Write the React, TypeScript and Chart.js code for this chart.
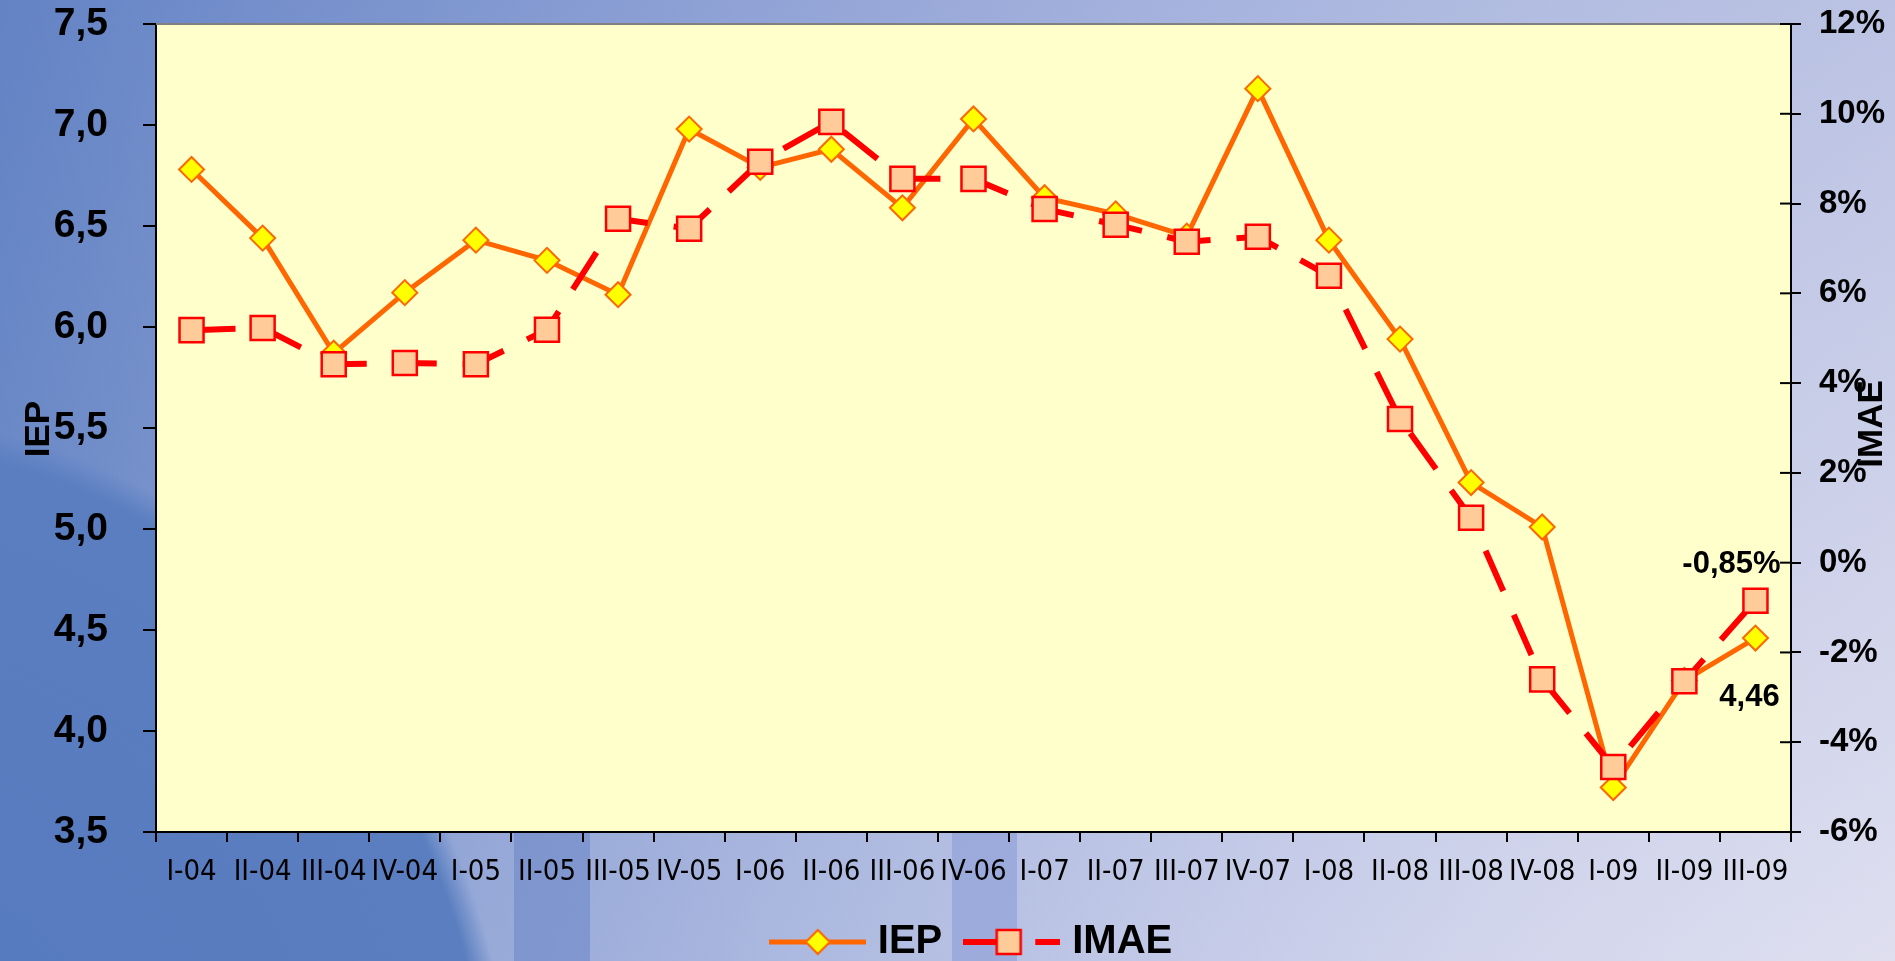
import React, { useEffect, useRef } from 'react';
import { Chart, registerables } from 'chart.js';

Chart.register(...registerables);

const categories = ['I-04', 'II-04', 'III-04', 'IV-04', 'I-05', 'II-05', 'III-05', 'IV-05', 'I-06', 'II-06', 'III-06', 'IV-06', 'I-07', 'II-07', 'III-07', 'IV-07', 'I-08', 'II-08', 'III-08', 'IV-08', 'I-09', 'II-09', 'III-09'];
const iepValues = [6.78, 6.44, 5.87, 6.17, 6.43, 6.33, 6.16, 6.98, 6.79, 6.88, 6.59, 7.03, 6.64, 6.56, 6.45, 7.18, 6.43, 5.94, 5.23, 5.01, 3.72, 4.25, 4.46];
const imaeValues = [5.18, 5.23, 4.42, 4.45, 4.42, 5.19, 7.66, 7.44, 8.93, 9.82, 8.55, 8.55, 7.88, 7.53, 7.15, 7.26, 6.39, 3.2, 1.0, -2.6, -4.55, -2.64, -0.85];
const iepTicks = [3.5, 4.0, 4.5, 5.0, 5.5, 6.0, 6.5, 7.0, 7.5];
const iepTickLabels = ['3,5', '4,0', '4,5', '5,0', '5,5', '6,0', '6,5', '7,0', '7,5'];
const imaeTicks = [-6, -4, -2, 0, 2, 4, 6, 8, 10, 12];
const imaeTickLabels = ['-6%', '-4%', '-2%', '0%', '2%', '4%', '6%', '8%', '10%', '12%'];
const seriesNames = ['IEP', 'IMAE'];

const FONT = "'Liberation Sans', Arial, sans-serif";
const NARROW = "'Liberation Sans Narrow', 'Arial Narrow', 'DejaVu Sans Condensed', 'Liberation Sans', sans-serif";
const IEP_LINE = '#FF6600';
const IEP_FILL = '#FFFF00';
const IMAE_LINE = '#FF0000';
const IMAE_FILL = '#FFCC99';

function makeIepLegendImage(): HTMLCanvasElement {
  const c = document.createElement('canvas');
  c.width = 97;
  c.height = 28;
  const g = c.getContext('2d')!;
  g.strokeStyle = IEP_LINE;
  g.lineWidth = 5;
  g.beginPath();
  g.moveTo(0, 14);
  g.lineTo(97, 14);
  g.stroke();
  g.beginPath();
  g.moveTo(49, 2);
  g.lineTo(61, 14);
  g.lineTo(49, 26);
  g.lineTo(37, 14);
  g.closePath();
  g.fillStyle = IEP_FILL;
  g.fill();
  g.lineWidth = 2;
  g.stroke();
  return c;
}

function makeImaeLegendImage(): HTMLCanvasElement {
  const c = document.createElement('canvas');
  c.width = 97;
  c.height = 28;
  const g = c.getContext('2d')!;
  g.strokeStyle = IMAE_LINE;
  g.lineWidth = 6;
  g.beginPath();
  g.moveTo(0, 14);
  g.lineTo(33, 14);
  g.moveTo(72, 14);
  g.lineTo(97, 14);
  g.stroke();
  g.fillStyle = IMAE_FILL;
  g.fillRect(33.5, 2, 24, 24);
  g.lineWidth = 2.5;
  g.strokeRect(33.5, 2, 24, 24);
  return c;
}

const zeroPad = (s: any) => {
  s.paddingTop = 0;
  s.paddingBottom = 0;
};

const decorPlugin = {
  id: 'decor',
  beforeDraw(chart: any) {
    const { ctx, chartArea } = chart;
    const { left, top, right, bottom } = chartArea;
    ctx.save();
    ctx.fillStyle = '#FFFFCC';
    ctx.fillRect(left, top, right - left, bottom - top);
    ctx.restore();
  },
  afterDatasetsDraw(chart: any) {
    const { ctx } = chart;
    const last = categories.length - 1;
    const p1 = chart.getDatasetMeta(1).data[last];
    const p0 = chart.getDatasetMeta(0).data[last];
    ctx.save();
    ctx.fillStyle = '#000';
    ctx.font = `bold 31px ${FONT}`;
    ctx.textAlign = 'center';
    ctx.textBaseline = 'middle';
    ctx.fillText(imaeValues[last].toFixed(2).replace('.', ',') + '%', p1.x - 24, p1.y - 36);
    ctx.fillText(iepValues[last].toFixed(2).replace('.', ','), p0.x - 6, p0.y + 59);
    ctx.restore();
  },
  afterDraw(chart: any) {
    const { ctx, chartArea } = chart;
    const { left, top, right, bottom } = chartArea;
    ctx.save();
    ctx.strokeStyle = '#808080';
    ctx.lineWidth = 2;
    ctx.beginPath();
    ctx.moveTo(left, top);
    ctx.lineTo(right, top);
    ctx.stroke();
    const y1 = chart.scales.y1;
    ctx.strokeStyle = '#000';
    ctx.lineWidth = 2;
    imaeTicks.forEach((v) => {
      const py = y1.getPixelForValue(v);
      ctx.beginPath();
      ctx.moveTo(right - 11, py);
      ctx.lineTo(right, py);
      ctx.stroke();
    });
    ctx.fillStyle = '#000';
    ctx.font = `bold 35px ${FONT}`;
    ctx.textAlign = 'center';
    ctx.textBaseline = 'middle';
    const cy = (top + bottom) / 2;
    ctx.save();
    ctx.translate(39, cy + 1);
    ctx.rotate(-Math.PI / 2);
    ctx.fillText(seriesNames[0], 0, 0);
    ctx.restore();
    ctx.save();
    ctx.translate(1872, cy - 4);
    ctx.rotate(-Math.PI / 2);
    ctx.fillText(seriesNames[1], 0, 0);
    ctx.restore();
    ctx.restore();
  },
};

export default function App() {
  const canvasRef = useRef<HTMLCanvasElement | null>(null);

  useEffect(() => {
    document.body.style.margin = '0';
    document.body.style.overflow = 'hidden';
    const canvas = canvasRef.current;
    if (!canvas) return;
    const iepImg = makeIepLegendImage();
    const imaeImg = makeImaeLegendImage();

    const chart = new Chart(canvas, {
      type: 'line',
      data: {
        labels: categories,
        datasets: [
          {
            label: seriesNames[0],
            data: iepValues,
            yAxisID: 'y',
            borderColor: IEP_LINE,
            borderWidth: 5,
            backgroundColor: IEP_FILL,
            pointStyle: 'rectRot',
            pointRadius: 12.5,
            pointBackgroundColor: IEP_FILL,
            pointBorderColor: IEP_LINE,
            pointBorderWidth: 2,
            tension: 0,
            fill: false,
            order: 2,
          },
          {
            label: seriesNames[1],
            data: imaeValues,
            yAxisID: 'y1',
            borderColor: IMAE_LINE,
            borderWidth: 6,
            borderDash: [44, 26],
            backgroundColor: IMAE_FILL,
            pointStyle: 'rect',
            pointRadius: 17,
            pointBackgroundColor: IMAE_FILL,
            pointBorderColor: IMAE_LINE,
            pointBorderWidth: 2.5,
            tension: 0,
            fill: false,
            order: 1,
          },
        ],
      },
      options: {
        responsive: false,
        animation: false,
        devicePixelRatio: 1,
        layout: { padding: { left: 54, right: 0, top: 24, bottom: -11 } },
        plugins: {
          tooltip: { enabled: false },
          legend: {
            display: true,
            position: 'bottom',
            labels: {
              usePointStyle: true,
              pointStyleWidth: 81,
              padding: 29,
              color: '#000',
              font: { family: FONT, size: 40, weight: 'bold' },
              generateLabels: () => [
                { text: seriesNames[0], pointStyle: iepImg as any, datasetIndex: 0, fillStyle: IEP_FILL, strokeStyle: IEP_LINE, lineWidth: 0, hidden: false },
                { text: seriesNames[1], pointStyle: imaeImg as any, datasetIndex: 1, fillStyle: IMAE_FILL, strokeStyle: IMAE_LINE, lineWidth: 0, hidden: false },
              ],
            },
          },
        },
        scales: {
          x: {
            type: 'category',
            offset: true,
            grid: { offset: true, drawOnChartArea: false, drawTicks: true, tickLength: 10, color: '#000', lineWidth: 2 },
            border: { display: true, color: '#000', width: 2 },
            ticks: { color: '#000', font: { family: NARROW, size: 29 }, padding: 13, maxRotation: 0, minRotation: 0, autoSkip: false },
            afterFit: (s: any) => { s.height = 61; s.paddingLeft = 0; s.paddingRight = 0; },
          },
          y: {
            type: 'linear',
            position: 'left',
            min: 3.5,
            max: 7.5,
            afterBuildTicks: (s: any) => { s.ticks = iepTicks.map((v) => ({ value: v })); },
            ticks: { color: '#000', font: { family: FONT, size: 39, weight: 'bold' }, padding: 35, callback: (_v: any, i: number) => iepTickLabels[i] },
            grid: { drawOnChartArea: false, drawTicks: true, tickLength: 13, color: '#000', lineWidth: 2 },
            border: { display: true, color: '#000', width: 2 },
            afterFit: (s: any) => { s.width = 102; zeroPad(s); },
          },
          y1: {
            type: 'linear',
            position: 'right',
            min: -6,
            max: 12,
            afterBuildTicks: (s: any) => { s.ticks = imaeTicks.map((v) => ({ value: v })); },
            ticks: { color: '#000', font: { family: FONT, size: 33, weight: 'bold' }, padding: 18, callback: (_v: any, i: number) => imaeTickLabels[i] },
            grid: { drawOnChartArea: false, drawTicks: true, tickLength: 10, color: '#000', lineWidth: 2 },
            border: { display: true, color: '#000', width: 2 },
            afterFit: (s: any) => { s.width = 104; zeroPad(s); },
          },
        },
      },
      plugins: [decorPlugin],
    } as any);

    return () => {
      chart.destroy();
    };
  }, []);

  const bg = [
    'linear-gradient(rgba(110,135,200,0.6), rgba(110,135,200,0.6)) 514px 832px / 76px 129px no-repeat',
    'linear-gradient(rgba(130,150,212,0.5), rgba(130,150,212,0.5)) 952px 832px / 65px 129px no-repeat',
    'radial-gradient(ellipse 640px 760px at -120px 1180px, #5579bd 0%, #5a7ec0 96%, rgba(90,126,192,0) 100%)',
    'linear-gradient(180deg, rgba(90,120,195,0.25) 0%, rgba(255,255,255,0.08) 100%)',
    'linear-gradient(90deg, #6686c4 0%, #7f98cf 15%, #a3b1dc 40%, #bcc4e5 60%, #cfd3eb 80%, #dcdcee 100%)',
  ].join(',');

  return (
    <div style={{ position: 'absolute', left: 0, top: 0, width: 1895, height: 961, background: bg, overflow: 'hidden' }}>
      <canvas ref={canvasRef} width={1895} height={961} style={{ display: 'block', width: 1895, height: 961 }} />
    </div>
  );
}
